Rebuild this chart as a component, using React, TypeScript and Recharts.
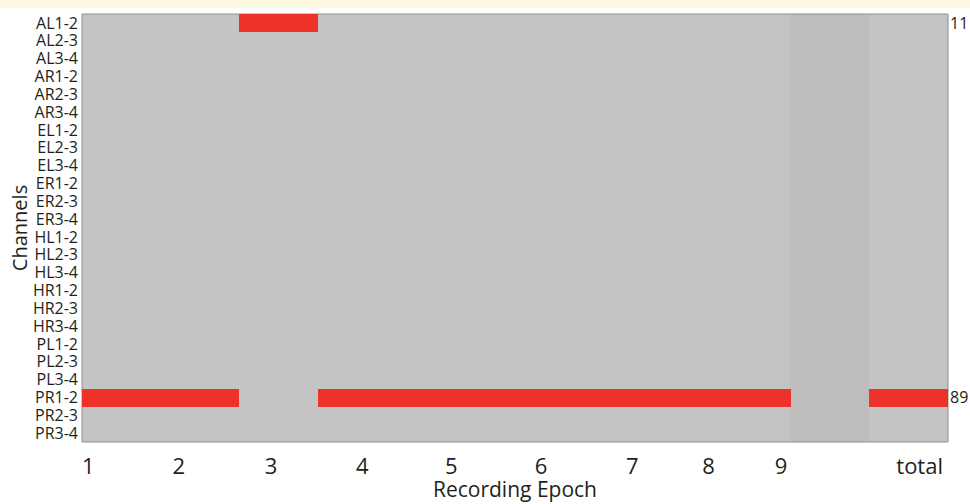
import { Bar, BarChart, Cell, Label, ReferenceArea, XAxis, YAxis } from "recharts"

const channels = [
  "AL1-2", "AL2-3", "AL3-4", "AR1-2", "AR2-3", "AR3-4",
  "EL1-2", "EL2-3", "EL3-4", "ER1-2", "ER2-3", "ER3-4",
  "HL1-2", "HL2-3", "HL3-4", "HR1-2", "HR2-3", "HR3-4",
  "PL1-2", "PL2-3", "PL3-4", "PR1-2", "PR2-3", "PR3-4",
]

// columns: epochs 1-9, a blank spacer, then total
const columns = ["1", "2", "3", "4", "5", "6", "7", "8", "9", "", "total"]

// flagged cells (1 = flagged) per channel
const al12Flags = [0, 0, 1, 0, 0, 0, 0, 0, 0, 0, 0]
const pr12Flags = [1, 1, 0, 1, 1, 1, 1, 1, 1, 0, 1]

const totalChannels = ["AL1-2", "PR1-2"]
const totalValues = [11, 89]

const tickLabels = ["1", "2", "3", "4", "5", "6", "7", "8", "9", "total"]
const tickValues = [0.08, 1.23, 2.4, 3.56, 4.69, 5.83, 6.99, 7.96, 8.88, 10.64]

const flagsByChannel: Record<string, number[]> = {
  "AL1-2": al12Flags,
  "PR1-2": pr12Flags,
}

const data = channels.map((ch) => {
  const row: Record<string, any> = { channel: ch }
  columns.forEach((_, i) => {
    row[`c${i}`] = 1
  })
  return row
})

const RED = "#ee3129"
const GRAY = "#c3c4c3"
const GRAY_DARK = "#bdbdbd"
const TEXT = "#231f20"

const blankCol = columns.indexOf("")

export default function App() {
  return (
    <div
      style={{
        position: "absolute",
        left: 0,
        top: 0,
        width: 970,
        height: 504,
        background: "#ffffff",
        fontFamily: "'Open Sans', sans-serif",
      }}
    >
      <div style={{ position: "absolute", left: 0, top: 0, width: 970, height: 8, background: "#fef7e0" }} />
      <BarChart
        width={970}
        height={504}
        data={data}
        layout="vertical"
        barCategoryGap={0}
        margin={{ top: 14, right: 0, bottom: 0, left: 0 }}
      >
        <ReferenceArea
          yAxisId="left"
          x1={0}
          x2={columns.length}
          y1={channels[0]}
          y2={channels[channels.length - 1]}
          fill={GRAY}
          fillOpacity={1}
          stroke="none"
        />
        <ReferenceArea
          yAxisId="left"
          x1={blankCol}
          x2={blankCol + 1}
          y1={channels[0]}
          y2={channels[channels.length - 1]}
          fill={GRAY_DARK}
          fillOpacity={1}
          stroke="none"
        />
        <XAxis
          type="number"
          domain={[0, columns.length]}
          ticks={tickValues}
          interval={0}
          tickFormatter={(v, i) => tickLabels[i] ?? ""}
          axisLine={false}
          tickLine={false}
          tickSize={6}
          tickMargin={10}
          height={62}
          tick={{ fontSize: 22, fill: TEXT }}
        >
          <Label value="Recording Epoch" position="insideBottom" offset={7} fontSize={21} fill={TEXT} />
        </XAxis>
        <YAxis
          yAxisId="left"
          type="category"
          dataKey="channel"
          width={82}
          interval={0}
          axisLine={false}
          tickLine={false}
          tickSize={2}
          tickMargin={2}
          tick={{ fontSize: 16, fill: TEXT }}
        >
          <Label
            content={(props: any) => {
              const { x, y, height } = props.viewBox
              const cx = x + 19
              const cy = y + height / 2
              return (
                <text
                  x={cx}
                  y={cy}
                  transform={`rotate(-90, ${cx}, ${cy})`}
                  textAnchor="middle"
                  dominantBaseline="central"
                  fontSize={20}
                  fill={TEXT}
                >
                  Channels
                </text>
              )
            }}
          />
        </YAxis>
        <YAxis
          yAxisId="right"
          orientation="right"
          type="category"
          dataKey="channel"
          width={22}
          interval={0}
          axisLine={false}
          tickLine={false}
          tickSize={1}
          tickMargin={1}
          tickFormatter={(ch) => {
            const k = totalChannels.indexOf(ch)
            return k >= 0 ? String(totalValues[k]) : ""
          }}
          tick={{ fontSize: 16, fill: TEXT }}
        />
        {columns.map((_, i) => (
          <Bar key={i} dataKey={`c${i}`} stackId="grid" yAxisId="left" isAnimationActive={false}>
            {data.map((row) => {
              const flags = flagsByChannel[row.channel]
              const on = !!(flags && flags[i])
              return (
                <Cell
                  key={row.channel}
                  fill={on ? RED : "transparent"}
                  fillOpacity={on ? 1 : 0}
                  shapeRendering="crispEdges"
                />
              )
            })}
          </Bar>
        ))}
        <ReferenceArea
          yAxisId="left"
          x1={0}
          x2={columns.length}
          y1={channels[0]}
          y2={channels[channels.length - 1]}
          fill="none"
          stroke="#8e8e8e"
          strokeWidth={1}
          ifOverflow="visible"
        />
      </BarChart>
    </div>
  )
}
